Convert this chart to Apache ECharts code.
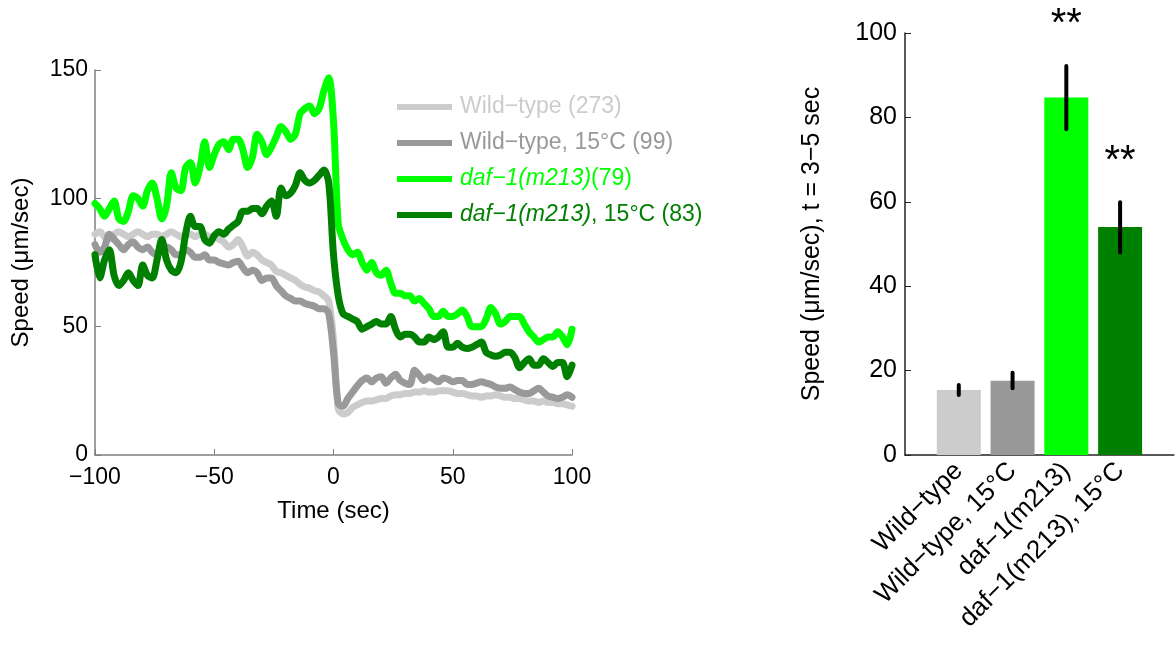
<!DOCTYPE html>
<html>
<head>
<meta charset="utf-8">
<script src="https://cdn.jsdelivr.net/npm/echarts@6/dist/echarts.min.js"></script>
<style>
  html, body { margin: 0; padding: 0; background: #fff; }
  #main { width: 1176px; height: 650px; }
</style>
</head>
<body>
<div id="main"></div>
<script>
// time axis (sec), one sample every 2 s
const time = [
  -100, -98, -96, -94, -92, -90, -88, -86, -84, -82, -80, -78, -76, -74, -72, -70, -68, -66, -64, -62,
  -60, -58, -56, -54, -52, -50, -48, -46, -44, -42, -40, -38, -36, -34, -32, -30, -28, -26, -24, -22,
  -20, -18, -16, -14, -12, -10, -8, -6, -4, -2, 0, 2, 4, 6, 8, 10, 12, 14, 16, 18,
  20, 22, 24, 26, 28, 30, 32, 34, 36, 38, 40, 42, 44, 46, 48, 50, 52, 54, 56, 58,
  60, 62, 64, 66, 68, 70, 72, 74, 76, 78, 80, 82, 84, 86, 88, 90, 92, 94, 96, 98, 100
];

// speed traces (um/sec)
const wildType = [
  86, 87, 85, 84, 86, 87, 86, 85, 86, 87, 86, 85, 86, 86, 85, 86, 87, 86, 85, 86, 86, 85, 86, 86, 85,
  85, 84, 83, 81, 82, 84, 81, 77.5, 79, 78, 76, 75, 74, 71.5, 71, 70, 69, 68, 66.5, 65.5, 65, 64, 63.5, 62, 60,
  45, 18, 16, 16.5, 18.5, 19.5, 20.5, 21, 21, 21.5, 22, 22, 23, 23.5, 23.5, 24, 24, 24.5, 24.5, 25, 24.5, 24.5, 25, 25, 25,
  24.5, 24, 24, 23.5, 23, 23, 22.5, 23, 23, 23.5, 23, 22.5, 22.5, 22, 22, 21.5, 21, 21, 20.5, 21, 20.5, 20.5, 20, 20, 19.5, 19
];
const wildType15 = [
  82, 79, 81, 86, 84, 82, 80, 82, 83, 81, 80, 81, 79, 78, 80, 81, 80, 78, 78, 80, 79, 77, 77, 78, 76,
  76, 75, 74.5, 74, 75, 75.5, 73, 71, 72, 71, 68, 69, 69, 66, 64, 62, 61, 60, 60, 59, 58.5, 58, 57, 57, 55,
  40, 20, 19, 22, 24.5, 27, 29, 30, 28.5, 30, 30.5, 28, 30, 31.5, 29, 28, 27.5, 33, 31, 29, 30.5, 29.5, 28.5, 30, 29.5,
  28.5, 29, 29, 27.5, 27.5, 28, 28.5, 28, 27.5, 26.5, 26, 26, 26.5, 25.5, 24.5, 24, 24, 25, 26, 24.5, 23, 22.5, 22, 22.5, 23.5, 22.5
];
const daf1 = [
  98, 96, 93, 96, 99, 92, 91, 95, 101, 100, 97, 103, 106, 100, 92, 97, 110, 104, 103, 112, 114, 106, 112, 122, 112,
  117, 121, 122, 119, 123, 123, 119, 112, 116, 125, 122, 117, 120, 124, 128, 126, 123, 125, 133, 135, 136, 133, 135, 142, 147,
  130, 90, 84, 80, 78, 79, 75, 72, 75, 71, 70, 72, 67, 63, 63, 62, 62, 60, 61, 59, 57, 54, 54, 56, 54,
  54, 55, 56.5, 54, 50, 50, 50, 53, 57.5, 55, 51, 52, 54, 54, 54, 51, 48, 46, 44, 45, 46, 46, 48, 46, 43, 49
];
const daf1_15 = [
  78, 69, 76, 80, 70, 66, 68, 71, 68, 66, 74, 70, 69, 76, 84, 76, 72, 71, 75, 86, 93, 89, 89, 84, 82.5,
  85.5, 87, 86, 88, 89.5, 91, 95, 95, 96, 96, 94, 97, 99, 93, 104, 101, 102, 105, 110, 107, 106, 107, 109, 111, 106,
  78, 62, 55, 54, 53, 52, 49, 50, 51, 52, 51, 51, 54, 49, 46, 47, 47, 46, 44, 44, 46, 45, 46, 48, 42,
  42, 43.5, 42, 41.5, 42, 43, 44, 40, 39, 38.5, 39, 40, 40, 38, 34, 36, 37.5, 35, 35, 37.5, 36, 34.5, 36, 36, 30.5, 35
];

const traceNames = ['Wild−type (273)', 'Wild−type, 15°C (99)', 'daf−1(m213)(79)', 'daf−1(m213), 15°C (83)'];
const traceColors = ['#cccccc', '#999999', '#00ff00', '#008000'];

// bar panel: mean speed, t = 3-5 sec
const barLabels = ['Wild−type', 'Wild−type, 15°C', 'daf−1(m213)', 'daf−1(m213), 15°C'];
const barMeans = [15.4, 17.6, 84.7, 54.0];
const barErrLow = [14.2, 15.8, 77.2, 48.0];
const barErrHigh = [16.6, 19.5, 92.2, 59.9];
const barStars = ['', '', '**', '**'];

const FONT = '"Liberation Sans", Arial, Helvetica, sans-serif';
const minus = v => String(v).replace('-', '−');

const chart = echarts.init(document.getElementById('main'));

const traces = [wildType, wildType15, daf1, daf1_15];

const option = {
  backgroundColor: '#fff',
  animation: false,
  textStyle: { fontFamily: FONT },
  legend: {
    orient: 'vertical',
    left: 392,
    top: 88,
    icon: 'rect',
    itemWidth: 55,
    itemHeight: 6,
    itemGap: 8,
    selectedMode: false,
    data: traceNames.map((n, i) => ({
      name: n,
      textStyle: {
        color: traceColors[i],
        fontSize: 23,
        lineHeight: 28,
        padding: [0, 0, 0, 3],
        rich: { i: { fontStyle: 'italic', color: traceColors[i], fontSize: 23, fontFamily: FONT } }
      }
    })),
    formatter: name => name.startsWith('daf') ? '{i|daf−1(m213)}' + name.slice('daf−1(m213)'.length) : name
  },
  grid: [
    { left: 95, right: 604, top: 70, bottom: 195 },
    { left: 905, right: -2, top: 33, bottom: 195 }
  ],
  xAxis: [
    {
      gridIndex: 0, type: 'value', min: -100, max: 100, interval: 50,
      name: 'Time (sec)', nameLocation: 'middle', nameGap: 44,
      nameTextStyle: { color: '#000', fontSize: 24 },
      axisLine: { onZero: false, lineStyle: { color: '#7f7f7f', width: 1.5 } },
      axisTick: { inside: true, length: 6, lineStyle: { color: '#7f7f7f' } },
      axisLabel: { color: '#000', fontSize: 23, margin: 11, formatter: minus },
      splitLine: { show: false }
    },
    {
      gridIndex: 1, type: 'value', min: 0, max: 5, interval: 1,
      axisLine: { onZero: false, lineStyle: { color: '#222', width: 1.5 } },
      axisTick: { show: false },
      axisLabel: {
        color: '#000', fontSize: 26, rotate: 45, margin: 12,
        formatter: v => barLabels[v - 1] || ''
      },
      splitLine: { show: false }
    }
  ],
  yAxis: [
    {
      gridIndex: 0, type: 'value', min: 0, max: 150, interval: 50,
      name: 'Speed (μm/sec)', nameLocation: 'middle', nameGap: 62,
      nameTextStyle: { color: '#000', fontSize: 24 },
      axisLine: { show: true, onZero: false, lineStyle: { color: '#7f7f7f', width: 1.5 } },
      axisTick: { show: true, inside: true, length: 6, lineStyle: { color: '#7f7f7f' } },
      axisLabel: { color: '#000', fontSize: 23, margin: 7 },
      splitLine: { show: false }
    },
    {
      gridIndex: 1, type: 'value', min: 0, max: 100, interval: 20,
      name: 'Speed (μm/sec), t = 3−5 sec', nameLocation: 'middle', nameGap: 80,
      nameTextStyle: { color: '#000', fontSize: 25 },
      axisLine: { show: true, onZero: false, lineStyle: { color: '#222', width: 1.5 } },
      axisTick: { show: true, inside: true, length: 6, lineStyle: { color: '#222' } },
      axisLabel: { color: '#000', fontSize: 25, margin: 8 },
      splitLine: { show: false }
    }
  ],
  series: [
    ...traces.map((vals, k) => ({
      name: traceNames[k],
      type: 'line',
      xAxisIndex: 0,
      yAxisIndex: 0,
      color: traceColors[k],
      showSymbol: false,
      smooth: 0.3,
      lineStyle: { width: 7, color: traceColors[k], cap: 'round', join: 'round' },
      data: time.map((t, i) => [t, vals[i]])
    })),
    {
      type: 'bar',
      xAxisIndex: 1,
      yAxisIndex: 1,
      barWidth: 44,
      data: barMeans.map((v, i) => ({ value: [i + 1, v], itemStyle: { color: traceColors[i] } }))
    },
    {
      type: 'custom',
      xAxisIndex: 1,
      yAxisIndex: 1,
      z: 10,
      data: barMeans.map((v, i) => [i + 1, barErrLow[i], barErrHigh[i]]),
      renderItem: (params, api) => {
        const lo = api.coord([api.value(0), api.value(1)]);
        const hi = api.coord([api.value(0), api.value(2)]);
        const children = [{
          type: 'line',
          shape: { x1: lo[0], y1: lo[1], x2: hi[0], y2: hi[1] },
          style: { stroke: '#000', lineWidth: 4, lineCap: 'round' }
        }];
        const star = barStars[params.dataIndex];
        if (star) {
          const s = api.coord([api.value(0), api.value(2) + 12]);
          children.push({
            type: 'text',
            x: s[0],
            y: s[1] + 10,
            style: { text: star, fill: '#000', fontSize: 40, fontFamily: FONT, align: 'center', verticalAlign: 'middle' }
          });
        }
        return { type: 'group', children };
      }
    }
  ]
};

chart.setOption(option);
</script>
</body>
</html>
